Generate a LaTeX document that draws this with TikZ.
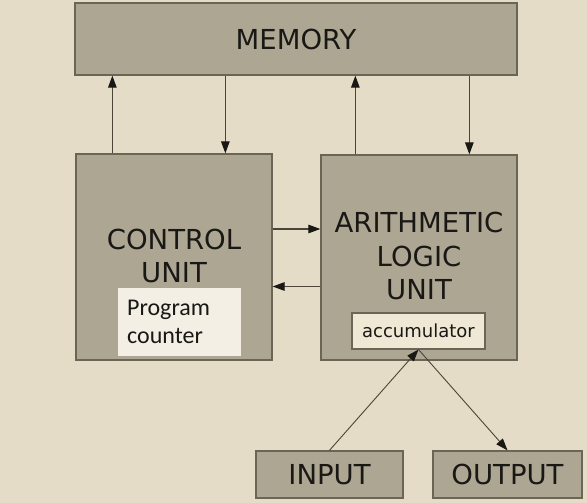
\documentclass[tikz,border=0pt]{standalone}
\usepackage{fontspec}
\setmainfont{DejaVu Sans}
\newfontfamily\carlito{Carlito}
\usetikzlibrary{arrows.meta,calc}
\definecolor{bg}{HTML}{E4DCC6}
\definecolor{boxfill}{HTML}{ADA693}
\definecolor{boxline}{HTML}{6B6556}
\definecolor{pcfill}{HTML}{F3EFE4}
\definecolor{accfill}{HTML}{EEE8D5}
\definecolor{arrline}{HTML}{4A4538}
\definecolor{txt}{HTML}{1A1815}
\tikzset{
  unitbox/.style={draw=boxline, fill=boxfill, line width=1.3pt, inner sep=0pt, text=txt},
  bigtext/.style={font=\fontsize{27.5}{33.5}\selectfont, text=txt, align=center, inner sep=0pt},
  arr/.style={draw=arrline, line width=1.2pt, -{Triangle[length=12pt,width=8.5pt,color=txt]}},
}
\begin{document}
\begin{tikzpicture}[x=1pt,y=-1pt]
\fill[bg] (0,0) rectangle (587,503);
\useasboundingbox (0,0) rectangle (587,503);
% boxes
\node[unitbox, minimum width=442pt, minimum height=72pt, font=\fontsize{27.5}{30}\selectfont] (mem) at (296,39) {MEMORY};
\node[unitbox, minimum width=196pt, minimum height=206pt] (cu) at (174,257) {};
\node[unitbox, minimum width=196pt, minimum height=205pt] (alu) at (419,257.5) {};
\node[unitbox, minimum width=147pt, minimum height=47pt, font=\fontsize{27.5}{30}\selectfont] (inp) at (329.5,474.5) {INPUT};
\node[unitbox, minimum width=149pt, minimum height=47pt, font=\fontsize{27.5}{30}\selectfont] (outp) at (507.5,474.5) {OUTPUT};
% inner boxes
\node[fill=pcfill, minimum width=123pt, minimum height=68pt, inner sep=0pt] (pc) at (179.5,322) {};
\node[anchor=west, font=\carlito\fontsize{24}{28}\selectfont, align=left, inner sep=0pt, text=txt] (pctext) at (127,322) {Program\\counter};
\node[draw=boxline, fill=accfill, line width=1.1pt, minimum width=133pt, minimum height=36pt, inner sep=0pt, font=\fontsize{18}{20}\selectfont, text=txt] (acc) at (418.5,331) {accumulator};
% texts
\node[bigtext] (cutext) at (174,256) {CONTROL\\UNIT};
\node[bigtext] (alutext) at (419,256) {ARITHMETIC\\LOGIC\\UNIT};
% arrows memory <-> units
\draw[arr] ([xshift=37pt]cu.north west) coordinate (a1) -- (a1 |- mem.south);
\draw[arr] ([xshift=151pt]mem.south west) coordinate (a2) -- (a2 |- cu.north);
\draw[arr] ([xshift=35pt]alu.north west) coordinate (a3) -- (a3 |- mem.south);
\draw[arr] ([xshift=395pt]mem.south west) coordinate (a4) -- (a4 |- alu.north);
% control <-> alu
\draw[arr] ([yshift=28pt]cu.east) coordinate (a5) -- (a5 -| alu.west);
\draw[arr] ([yshift=-29pt]alu.west) coordinate (a6) -- (a6 -| cu.east);
% io
\draw[arr, line width=0.9pt] (inp.north) -- (acc.south);
\draw[arr, line width=0.9pt] (acc.south) -- (outp.north);
\end{tikzpicture}
\end{document}
